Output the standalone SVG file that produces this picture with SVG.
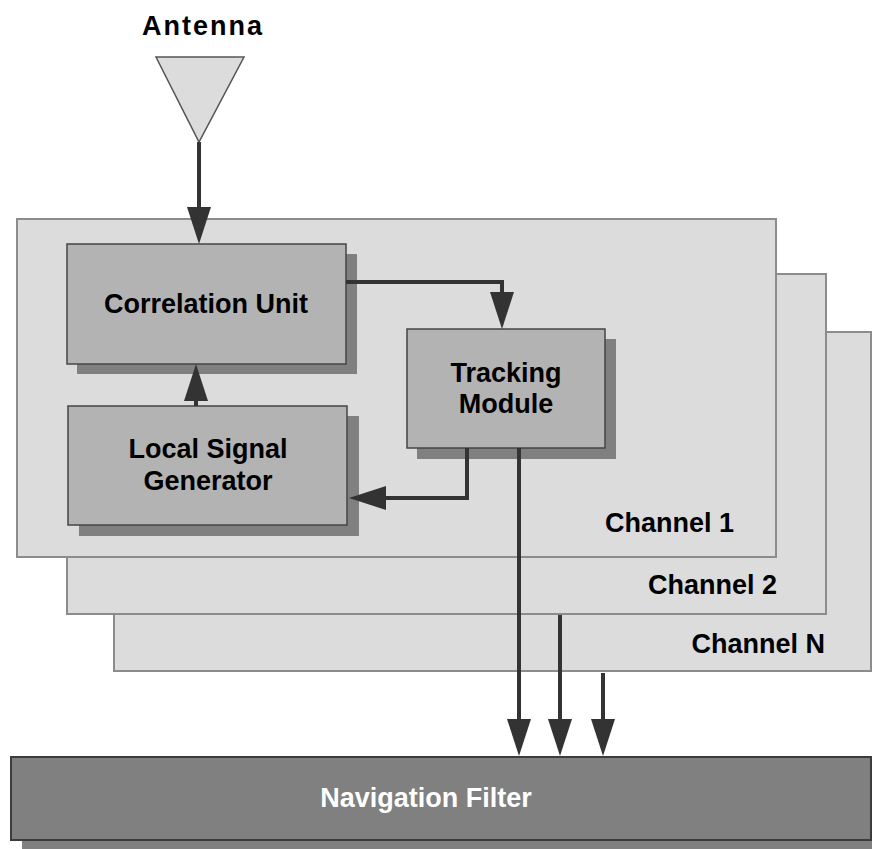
<svg xmlns="http://www.w3.org/2000/svg" width="872" height="849" viewBox="0 0 872 849">
<style>
.ch{fill:#dcdcdc;stroke:#8c8c8c;stroke-width:2}
.box{fill:#b3b3b3;stroke:#444;stroke-width:1.5}
.sh{fill:#808080}
.t{font-family:"Liberation Sans",Arial,sans-serif;font-weight:bold;font-size:27px;fill:#000}
.c{text-anchor:middle}
.e{text-anchor:end}
.w{stroke:#333;stroke-width:4;fill:none;marker-end:url(#ah)}
</style>
<defs>
<marker id="ah" markerUnits="userSpaceOnUse" markerWidth="37" markerHeight="24" viewBox="0 0 37 24" refX="27" refY="12" orient="auto">
<path d="M0,0 L37,12 L0,24 z" fill="#333"/>
</marker>
</defs>
<rect width="872" height="849" fill="#fff"/>
<g id="antenna">
<text class="t c" x="203" y="35" style="letter-spacing:2px">Antenna</text>
<polygon points="156,57 244,57 199,142" fill="#dcdcdc" stroke="#555" stroke-width="1.5"/>
</g>
<g id="channelN">
<rect class="ch" x="114" y="332" width="757" height="339"/>
<text class="t e" x="825" y="653">Channel N</text>
</g>
<g id="channel2">
<rect class="ch" x="67" y="274" width="759" height="340"/>
<text class="t e" x="777" y="594">Channel 2</text>
</g>
<g id="channel1">
<rect class="ch" x="17" y="219" width="759" height="338"/>
<text class="t e" x="734" y="532">Channel 1</text>
</g>
<g id="correlation">
<rect class="sh" x="77" y="254" width="280" height="120"/>
<rect class="box" x="67" y="244" width="279" height="120"/>
<text class="t c" x="206" y="313">Correlation Unit</text>
</g>
<g id="tracking">
<rect class="sh" x="417" y="339" width="199" height="120"/>
<rect class="box" x="407" y="329" width="198" height="119"/>
<text class="t c" x="506" y="382">Tracking</text>
<text class="t c" x="506" y="413">Module</text>
</g>
<g id="lsg">
<rect class="sh" x="79" y="416" width="280" height="120"/>
<rect class="box" x="68" y="406" width="279" height="119"/>
<text class="t c" x="208" y="458">Local Signal</text>
<text class="t c" x="208" y="490">Generator</text>
</g>
<g id="navfilter">
<rect class="sh" x="22" y="767" width="860" height="90"/>
<rect x="11" y="757" width="860" height="83" fill="#808080" stroke="#3c3c3c" stroke-width="2"/>
<text class="t c" x="426" y="807" fill="#fff" style="fill:#fff">Navigation Filter</text>
</g>
<g id="connectors">
<path class="w" d="M199,142 V234"/>
<path class="w" d="M346,282 H502 V319"/>
<path class="w" d="M196,406 V374"/>
<path class="w" d="M467,448 V498 H359"/>
<path class="w" d="M519,448 V746"/>
<path class="w" d="M560,615 V746"/>
<path class="w" d="M603,673 V746"/>
</g>
</svg>
